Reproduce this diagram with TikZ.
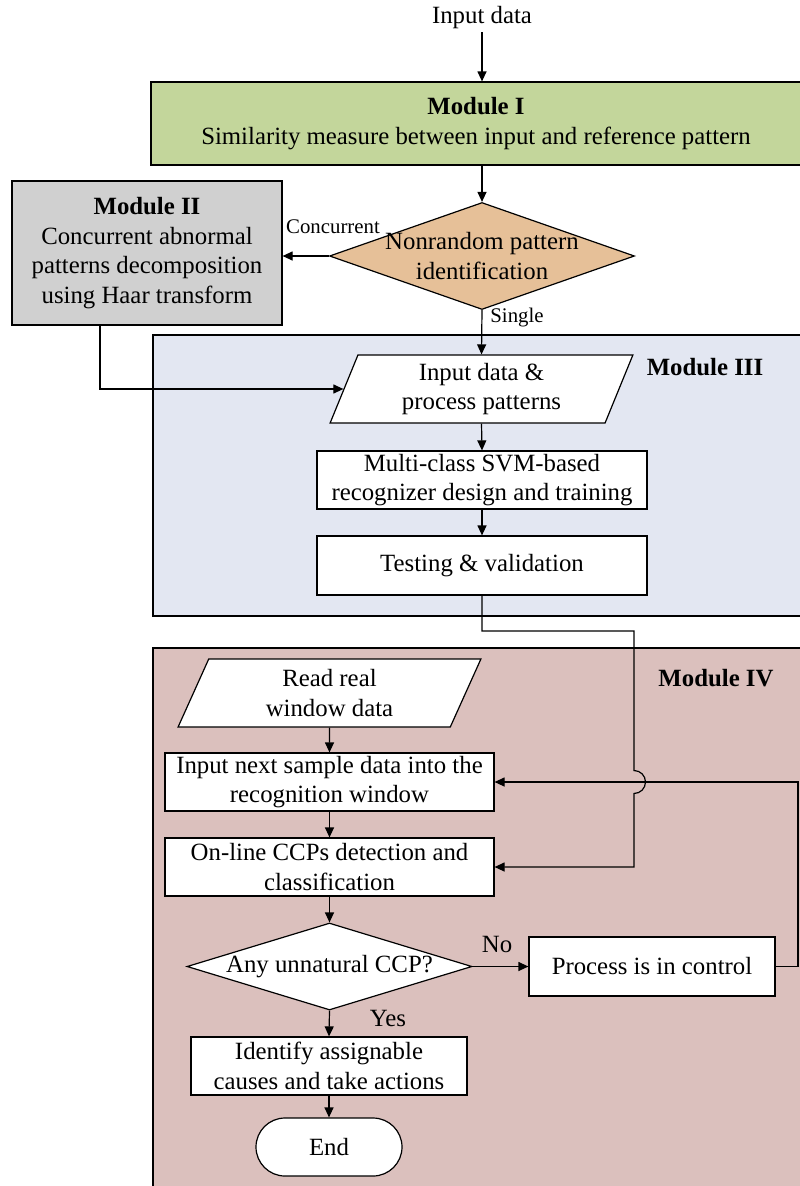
\documentclass[tikz,border=0pt]{standalone}
\usepackage{fontspec}
\setmainfont{Liberation Serif}
\usetikzlibrary{shapes.geometric,arrows.meta}
\definecolor{cgreen}{RGB}{195,214,155}
\definecolor{cgray}{RGB}{208,208,208}
\definecolor{ctan}{RGB}{230,192,152}
\definecolor{cblue}{RGB}{227,231,242}
\definecolor{crose}{RGB}{219,192,189}
\tikzset{
  every node/.style={font=\fontsize{24.8}{29.5}\selectfont},
  line/.style={line width=1.2pt, draw=black},
  arr/.style={line, -{Triangle[length=10pt,width=9pt]}},
  boxn/.style={draw=black, line width=1.2pt, fill=white, rectangle, inner sep=0pt, align=center},
  dia/.style={draw=black, line width=1.2pt, diamond, inner sep=0pt},
  para/.style={draw=black, line width=1.2pt, fill=white, trapezium, trapezium left angle=71, trapezium right angle=109, trapezium stretches=true, inner sep=0pt, align=center},
  lbl/.style={font=\fontsize{20.8}{24}\selectfont, inner sep=0pt},
  mtitle/.style={font=\fontsize{24.8}{29.5}\selectfont\bfseries, inner sep=0pt},
  txt/.style={align=center, inner sep=0pt}
}
\begin{document}
\begin{tikzpicture}[x=1pt,y=-1pt]
\useasboundingbox (0,0) rectangle (800,1186);
\fill[white] (0,0) rectangle (800,1186);
% backgrounds
\node[draw=black, line width=1.2pt, fill=cblue, minimum width=648, minimum height=281, inner sep=0pt] (bg3) at (477,475.5) {};
\node[draw=black, line width=1.2pt, fill=crose, minimum width=648, minimum height=545, inner sep=0pt] (bg4) at (477,920.5) {};
\node[mtitle] (t3) at (705,367) {Module III};
\node[mtitle] (t4) at (716,678) {Module IV};
% top
\node[txt] (in) at (482,18) {Input data};
\node[boxn, fill=cgreen, minimum width=650, minimum height=83] (m1) at (476,123.5) {\textbf{Module I}\\Similarity measure between input and reference pattern};
\node[dia, fill=ctan, minimum width=305, minimum height=107] (d1) at (482,256) {};
\node[txt] at (d1) {Nonrandom pattern\\identification};
\node[boxn, fill=cgray, minimum width=270, minimum height=144] (m2) at (147,253) {\textbf{Module II}\\Concurrent abnormal\\patterns decomposition\\using Haar transform};
% module III
\node[para, minimum width=303, minimum height=68] (p1) at (481.5,389) {Input data \&\\process patterns};
\node[boxn, minimum width=330, minimum height=58] (svm) at (482,480) {Multi-class SVM-based\\recognizer design and training};
\node[boxn, minimum width=330, minimum height=59] (test) at (482,565.5) {Testing \& validation};
% module IV
\node[para, minimum width=303, minimum height=68] (p2) at (329.5,693) {Read real\\window data};
\node[boxn, minimum width=329, minimum height=58] (inp) at (329.5,782) {Input next sample data into the\\recognition window};
\node[boxn, minimum width=329, minimum height=58] (onl) at (329.5,867) {On-line CCPs detection and\\classification};
\node[dia, fill=white, minimum width=285, minimum height=87] (d2) at (329.5,966.5) {};
\node[txt] at (d2) {Any unnatural CCP?};
\node[boxn, minimum width=246, minimum height=59] (proc) at (652,966.5) {Process is in control};
\node[boxn, minimum width=276, minimum height=58] (ident) at (329,1066) {Identify assignable\\causes and take actions};
\node[boxn, rounded corners=29pt, minimum width=146, minimum height=58] (endn) at (329,1147) {End};
% connectors
\coordinate (a0) at (482,32);
\draw[arr] (a0) -- (a0 |- m1.north);
\draw[arr] (d1.north |- m1.south) -- (d1.north);
\draw[arr] (d1.west) -- (d1.west -| m2.east);
\node[lbl] at (333,227) {Concurrent};
\draw[arr] (d1.south) -- (p1.north);
\node[lbl] at (517,318) {Single};
\draw[arr] ([xshift=-47pt]m2.south) |- (p1.west);
\draw[arr] (p1.south) -- (svm.north);
\draw[arr] (svm.south) -- (test.north);
\coordinate (c1) at (634,631);
\coordinate (hop) at (634,782);
\draw[arr] (test.south) |- (c1) -- ([yshift=11.5pt]hop) arc[start angle=90, end angle=-90, radius=11.5pt] -- (hop |- onl.east) -- (onl.east);
\draw[arr] (p2.south) -- (inp.north);
\draw[arr] (inp.south) -- (onl.north);
\draw[arr] (onl.south) -- (d2.north);
\draw[arr] (d2.east) -- (proc.west);
\node[txt] at (497,944) {No};
\draw[arr] (d2.south) -- (ident.north);
\node[txt] at (388,1018) {Yes};
\draw[arr] (ident.south) -- (endn.north);
\coordinate (c2) at (798,966.5);
\draw[arr] (proc.east) -- (c2) |- (inp.east);
\end{tikzpicture}
\end{document}
